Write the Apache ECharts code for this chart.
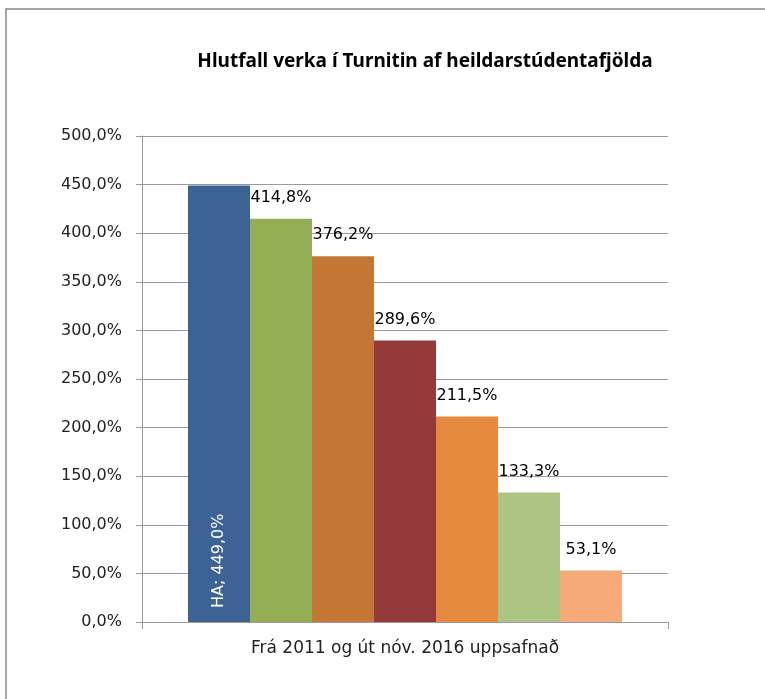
<!DOCTYPE html>
<html><head><meta charset="utf-8">
<script src="https://cdn.jsdelivr.net/npm/echarts@6/dist/echarts.min.js"></script>
<style>html,body{margin:0;padding:0;background:#fff}#c{width:765px;height:699px}</style>
</head><body><div id="c"></div>
<script>
const title = 'Hlutfall verka í Turnitin af heildarstúdentafjölda';
const categories = ['Frá 2011 og út nóv. 2016 uppsafnað'];
const seriesNames = ['HA', 'Röð 2', 'Röð 3', 'Röð 4', 'Röð 5', 'Röð 6', 'Röð 7'];
const seriesValues = [449.0, 414.8, 376.2, 289.6, 211.5, 133.3, 53.1];
const seriesColors = ['#3D6394', '#93AE55', '#C47635', '#953A3B', '#E68A40', '#ADC584', '#F6AA78'];
const yMin = 0, yMax = 500, yStep = 50;

const FONT = 'DejaVu Sans';
const fmt = v => v.toFixed(1).replace('.', ',') + '%';

const series = seriesValues.map((v, i) => ({
  name: seriesNames[i],
  type: 'bar',
  barWidth: 62,
  barGap: '0%',
  data: [v],
  itemStyle: { color: seriesColors[i] },
  label: i === 0 ? {
    show: true, position: 'insideBottom', rotate: 90, align: 'left', verticalAlign: 'middle',
    distance: 14, color: '#fff', fontFamily: FONT, fontSize: 16,
    formatter: p => p.seriesName + '; ' + fmt(p.value)
  } : {
    show: true, position: 'top', distance: 13, color: '#000', fontFamily: FONT, fontSize: 16,
    formatter: p => fmt(p.value)
  }
}));

const chart = echarts.init(document.getElementById('c'));
chart.setOption({
  animation: false,
  backgroundColor: '#fff',
  graphic: [{ type: 'rect', shape: { x: 6, y: 9, width: 820, height: 760 },
    style: { fill: 'none', stroke: '#888', lineWidth: 1.5 }, silent: true }],
  title: { text: title, left: 420, top: 47, textAlign: 'center',
    textStyle: { fontFamily: 'Noto Sans', fontWeight: 'bold', fontSize: 19, color: '#000' } },
  grid: { left: 142, right: 97, top: 136, bottom: 77 },
  xAxis: {
    type: 'category', data: categories,
    axisLine: { lineStyle: { color: '#9A9A9A', width: 1 } },
    axisTick: { show: true, length: 7, lineStyle: { color: '#9A9A9A' } },
    axisLabel: { fontFamily: FONT, fontSize: 17, color: '#222', margin: 18 }
  },
  yAxis: {
    type: 'value', min: yMin, max: yMax, interval: yStep,
    axisLine: { show: true, lineStyle: { color: '#9A9A9A', width: 1 } },
    axisTick: { show: true, length: 6, lineStyle: { color: '#9A9A9A' } },
    splitLine: { lineStyle: { color: '#9A9A9A', width: 1 } },
    axisLabel: { fontFamily: FONT, fontSize: 16, color: '#222', margin: 20, formatter: v => fmt(v) }
  },
  series
});
</script></body></html>
